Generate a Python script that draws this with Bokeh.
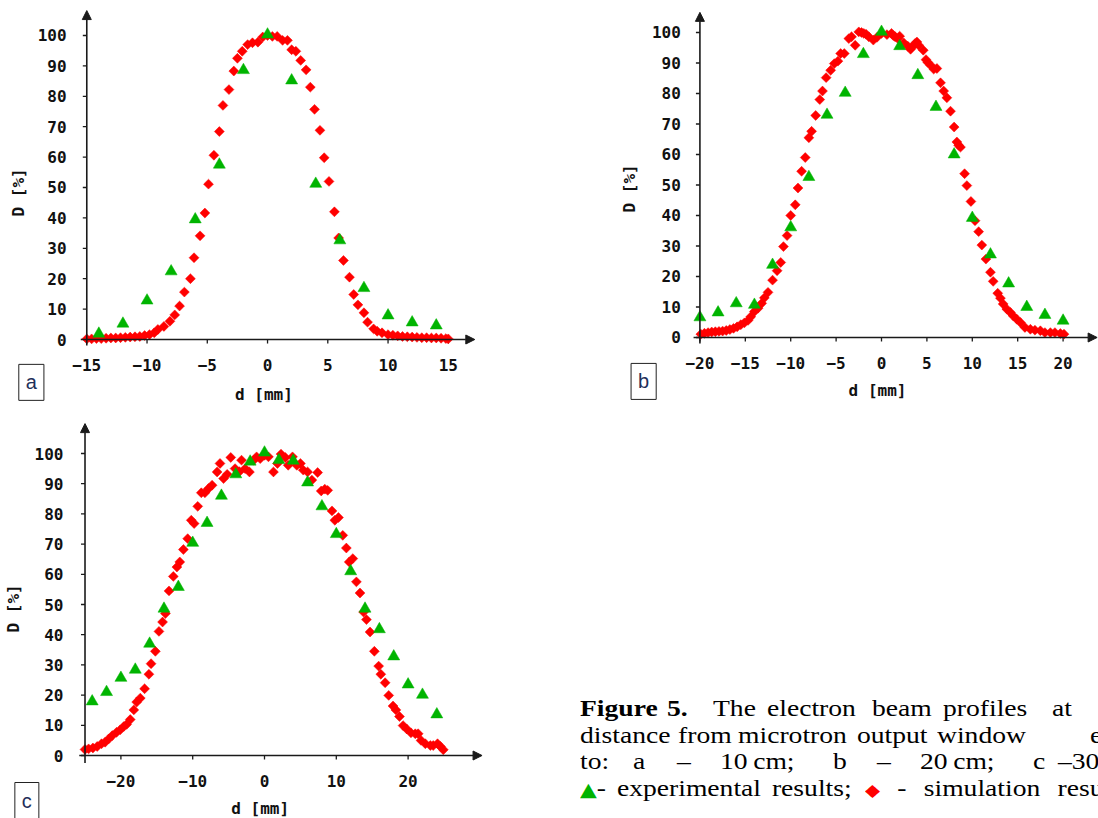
import numpy as np
from bokeh.plotting import figure
from bokeh.layouts import column, row
from bokeh.models import Div, Arrow, NormalHead, Label
from bokeh.core.properties import value
from bokeh.embed import file_html
from bokeh.resources import INLINE

# ---------------- data ----------------
# panel a (10 cm)
a_sim_x = [-15.0, -14.6, -14.2, -13.8, -13.4, -13.0, -12.6, -12.2, -11.8, -11.4, -11.0, -10.6, -10.2, -9.8,
           -9.4, -9.1, -8.6, -8.1, -7.7, -7.3, -6.9, -6.4, -6.1, -5.6, -5.2, -4.9, -4.45, -4.0, -3.7, -3.2,
           -2.8, -2.5, -2.1, -1.65, -1.25, -0.8, -0.4, 0.0, 0.4, 0.8, 1.25, 1.65, 2.0, 2.35, 2.75, 3.2, 3.55,
           3.9, 4.35, 4.7, 5.1, 5.55, 5.9, 6.3, 6.8, 7.15, 7.5, 8.0, 8.3, 8.8, 9.1, 9.5, 10.0, 10.4, 10.8,
           11.2, 11.6, 12.0, 12.4, 12.8, 13.2, 13.6, 14.0, 14.4, 14.8, 15.0]
a_sim_y = [0.2, 0.2, 0.3, 0.3, 0.4, 0.5, 0.5, 0.6, 0.7, 0.8, 0.9, 1.0, 1.3, 1.6,
           2.2, 3.3, 4.3, 6.0, 8.1, 11.0, 15.6, 20.0, 26.9, 34.1, 41.6, 51.1, 60.6, 68.4, 77.0, 82.2,
           88.3, 92.5, 94.8, 97.0, 97.6, 97.8, 99.5, 100.0, 99.7, 99.7, 98.4, 98.4, 95.3, 94.8, 91.8, 88.7, 83.0,
           75.7, 68.8, 59.8, 52.0, 42.0, 33.4, 26.0, 20.5, 14.8, 11.4, 8.8, 5.7, 3.5, 2.7, 2.2, 1.6, 1.4, 1.2,
           1.0, 0.9, 0.8, 0.7, 0.6, 0.6, 0.5, 0.5, 0.4, 0.3, 0.2]
a_exp_x = [-14, -12, -10, -8, -6, -4, -2, 0, 2, 4, 6, 8, 10, 12, 14]
a_exp_y = [1.9, 5.2, 12.8, 22.4, 39.5, 57.5, 88.6, 100.3, 85.2, 51.2, 32.6, 16.9, 7.9, 5.6, 4.6]

# panel b (20 cm)
b_sim_x = [-19.9, -19.5, -19.1, -18.7, -18.3, -17.9, -17.5, -17.1, -16.7, -16.3, -15.9, -15.5, -15.1, -14.7,
           -14.4, -14.0, -13.6, -13.2, -12.9, -12.5, -12.0, -11.5, -11.1, -10.8, -10.4, -10.0, -9.5, -9.2,
           -8.8, -8.4, -8.0, -7.7, -7.25, -6.8, -6.5, -6.1, -5.6, -5.2, -4.8, -4.5, -4.1, -3.6, -3.3, -2.9,
           -2.5, -2.2, -1.95, -1.7, -1.4, -0.9, -0.5, 0.0, 0.6, 1.1, 1.3, 1.5, 1.8, 2.0, 2.45, 2.9, 3.2, 3.4,
           3.7, 3.9, 4.1, 4.6, 4.9, 5.1, 5.4, 5.75, 6.1, 6.5, 6.85, 7.2, 7.6, 8.0, 8.3, 8.5, 8.7, 9.15, 9.4,
           9.85, 10.3, 10.7, 11.05, 11.5, 12.0, 12.3, 12.8, 13.1, 13.4, 13.8, 14.2, 14.5, 14.9, 15.3, 15.8,
           16.4, 16.9, 17.5, 18.0, 18.6, 19.1, 19.7, 20.1]
b_sim_y = [1.1, 1.4, 1.6, 1.8, 1.9, 2.0, 2.1, 2.3, 2.6, 3.0, 3.5, 4.2, 4.8, 5.6,
           6.8, 8.5, 9.6, 11.2, 13.0, 14.8, 18.8, 21.9, 24.6, 29.8, 33.4, 40.0, 43.5, 49.0,
           54.5, 59.0, 65.5, 67.6, 72.8, 78.0, 80.8, 85.2, 87.6, 89.8, 90.6, 93.1, 93.1, 98.0, 98.6, 95.8,
           100.2, 100.0, 99.7, 99.4, 98.6, 97.5, 98.4, 99.7, 99.3, 99.7, 99.0, 98.6, 98.0, 98.8, 96.6, 95.5, 94.5, 95.3,
           96.4, 96.9, 95.8, 94.2, 91.1, 90.2, 89.3, 88.0, 88.2, 83.5, 80.8, 78.6, 74.2, 69.0, 64.1, 63.0, 62.4, 53.7, 49.8,
           44.6, 38.3, 34.7, 30.3, 25.7, 21.4, 18.4, 14.5, 12.9, 11.0, 9.3, 8.2, 7.1, 6.0, 4.9, 3.3,
           2.7, 2.4, 2.2, 1.6, 1.6, 1.6, 1.3, 1.1]
b_exp_x = [-20, -18, -16, -14, -12, -10, -8, -6, -4, -2, 0, 2, 4, 6, 8, 10, 12, 14, 16, 18, 20]
b_exp_y = [6.6, 8.2, 11.2, 10.7, 23.8, 36.1, 52.6, 73.0, 80.2, 92.9, 100.2, 95.5, 86.0, 75.6, 60.0,
           39.2, 27.2, 17.7, 10.0, 7.4, 5.5]

# panel c (30 cm)
c_sim_x = [-25.0, -24.5, -23.9, -23.3, -22.7, -22.2, -21.7, -21.2, -20.6, -20.1, -19.6, -19.2, -18.7, -18.2,
           -17.8, -17.3, -16.7, -16.1, -15.8, -15.2, -14.7, -14.2, -13.8, -13.3, -12.7, -12.2, -11.8, -11.3,
           -10.7, -10.2, -9.8, -9.3, -8.8, -8.3, -7.8, -7.3, -6.6, -6.2, -5.7, -5.2, -4.7, -4.1, -3.5, -3.2,
           -2.7, -2.1, -1.5, -1.1, -0.6, 0.0, 0.55, 1.25, 1.8, 2.3, 2.9, 3.3, 3.9, 4.5, 5.0, 5.4, 6.0, 6.6,
           7.4, 7.9, 8.4, 8.8, 9.4, 9.8, 10.3, 10.9, 11.4, 11.8, 12.3, 12.8, 13.3, 13.8, 14.2, 14.7, 15.3,
           15.9, 16.2, 16.8, 17.3, 17.9, 18.3, 18.8, 19.3, 19.8, 20.4, 21.0, 21.4, 21.8, 22.4, 23.1, 23.5,
           24.1, 24.5, 24.9]
c_sim_y = [2.0, 2.2, 2.5, 3.0, 3.9, 4.4, 5.5, 6.6, 7.7, 8.5, 9.6, 10.3, 11.9, 15.1,
           17.7, 19.0, 22.1, 26.9, 30.4, 34.5, 41.1, 44.2, 47.0, 54.5, 59.3, 62.4, 64.1, 68.2,
           71.8, 77.9, 76.8, 82.5, 87.0, 87.0, 88.4, 89.5, 93.9, 96.7, 91.7, 93.1, 98.7, 95.0, 94.0, 97.8,
           95.0, 93.9, 97.8, 98.9, 98.3, 99.4, 98.9, 93.9, 96.7, 99.8, 98.7, 96.1, 98.9, 96.1, 96.7, 94.5, 93.9, 91.2,
           93.7, 87.6, 88.2, 87.8, 81.0, 77.9, 78.8, 72.9, 68.7, 64.1, 65.2, 57.5, 53.8, 47.5, 45.0, 40.9, 34.5,
           29.6, 26.9, 24.1, 19.9, 16.4, 15.1, 12.9, 9.9, 8.8, 7.5, 7.2, 7.2, 5.0, 3.9, 3.3, 3.3,
           3.9, 3.0, 1.9]
c_exp_x = [-24, -22, -20, -18, -16, -14, -12, -10, -8, -6, -4, -2, 0, 2, 4, 6, 8, 10, 12, 14, 16, 18, 20, 22, 24]
c_exp_y = [17.9, 21.0, 25.7, 28.4, 37.0, 48.6, 55.8, 70.4, 77.0, 86.0, 93.1, 97.3, 100.3, 97.8, 97.6, 90.4,
           82.5, 73.3, 61.0, 48.6, 41.8, 32.8, 23.5, 20.1, 13.6]

y_ticks = [0, 10, 20, 30, 40, 50, 60, 70, 80, 90, 100]
a_ticks = [-15, -10, -5, 0, 5, 10, 15]
b_ticks = [-20, -15, -10, -5, 0, 5, 10, 15, 20]
c_ticks = [-20, -10, 0, 10, 20]

RED = "#ff0000"
GREEN = "#00b400"
AXIS = "#1a1a1a"
TXT = "#111111"
MONO = "DejaVu Sans Mono"
FS = "16px"


def fmt(v):
    return ("\u2212" + str(abs(v))) if v < 0 else str(v)


def panel(letter, width, height, xr, yr, xticks, y_at, x_axis, y_axis,
          tick_len, x_lab_y, y_lab_x, sim_x, sim_y, exp_x, exp_y, ylab, xlab, box):
    p = figure(width=width, height=height, x_range=xr, y_range=yr,
               output_backend="svg", toolbar_location=None,
               min_border=0, min_border_left=0, min_border_right=0,
               min_border_top=0, min_border_bottom=0)
    p.axis.visible = False
    p.grid.visible = False
    p.outline_line_color = None
    p.background_fill_color = "white"
    p.border_fill_color = "white"

    # axis lines with arrow heads
    head = dict(size=9, fill_color=AXIS, line_color=AXIS)
    p.add_layout(Arrow(end=NormalHead(**head), x_start=x_axis[0], y_start=0,
                       x_end=x_axis[1], y_end=0, line_color=AXIS, line_width=1.6))
    p.add_layout(Arrow(end=NormalHead(**head), x_start=y_at, y_start=y_axis[0],
                       x_end=y_at, y_end=y_axis[1], line_color=AXIS, line_width=1.6))

    # tick marks (outward)
    tx, ty = tick_len
    p.segment(x0=xticks, y0=[0] * len(xticks), x1=xticks, y1=[-ty] * len(xticks),
              line_color=AXIS, line_width=1.3)
    p.segment(x0=[y_at] * len(y_ticks), y0=y_ticks, x1=[y_at - tx] * len(y_ticks), y1=y_ticks,
              line_color=AXIS, line_width=1.3)

    # tick labels
    p.text(x=xticks, y=[x_lab_y] * len(xticks), text=[fmt(t) for t in xticks],
           text_align="center", text_baseline="middle", text_font=value(MONO),
           text_font_style="bold", text_font_size=FS, text_color=TXT)
    p.text(x=[y_lab_x] * len(y_ticks), y=y_ticks, text=[str(t) for t in y_ticks],
           text_align="right", text_baseline="middle", text_font=value(MONO),
           text_font_style="bold", text_font_size=FS, text_color=TXT)

    # data
    p.scatter(sim_x, sim_y, marker="square", angle=np.pi / 4, size=7,
              fill_color=RED, line_color=RED, line_width=0.5)
    p.scatter(exp_x, exp_y, marker="triangle", size=12,
              fill_color=GREEN, line_color=GREEN, line_width=0.5)

    # axis titles and panel letter
    p.add_layout(Label(x=ylab[0], y=ylab[1], text="D [%]", angle=np.pi / 2,
                       text_align="center", text_baseline="middle",
                       text_font=MONO, text_font_style="bold",
                       text_font_size=FS, text_color=TXT))
    p.add_layout(Label(x=xlab[0], y=xlab[1], text="d [mm]",
                       text_align="center", text_baseline="middle",
                       text_font=MONO, text_font_style="bold",
                       text_font_size=FS, text_color=TXT))
    p.add_layout(Label(x=box[0], y=box[1], text=letter,
                       text_align="center", text_baseline="middle",
                       text_font="Liberation Sans", text_font_size="20px",
                       text_color="#1f2f5a", border_line_color="#222222",
                       border_line_width=1, background_fill_color="white",
                       padding=7))
    return p


pa = panel("a", 600, 404, (-22.16, 27.63), (-21.38, 111.51), a_ticks, -15,
           (-15.5, 17.2), (-2.0, 108.2), (0.33, 1.32), -8.55, -16.68,
           a_sim_x, a_sim_y, a_exp_x, a_exp_y,
           (-20.66, 48.4), (-0.3, -18.1), (-19.6, -14.1))

pb = panel("b", 498, 404, (-30.95, 23.90), (-21.97, 110.49), b_ticks, -20,
           (-20.7, 23.75), (-2.0, 106.6), (0.44, 1.31), -8.5, -22.1,
           b_sim_x, b_sim_y, b_exp_x, b_exp_y,
           (-27.75, 48.9), (-0.44, -17.4), (-26.2, -14.4))

pc = panel("c", 540, 414, (-36.77, 38.44), (-20.86, 116.23), c_ticks, -25,
           (-25.8, 30.3), (-2.5, 109.9), (0.56, 1.32), -8.6, -28.0,
           c_sim_x, c_sim_y, c_exp_x, c_exp_y,
           (-35.0, 48.7), (-0.6, -17.5), (-33.1, -14.9))

# ---------------- caption ----------------
SC = 1.15
GTRI = "<span style='color:#00b400;font-family:DejaVu Sans;font-size:19px'>\u25B2</span>"
RDIA = "<span style='color:#ff0000;font-family:DejaVu Sans;font-size:17px'>\u25C6</span>"
lines = [
    (292, 3.5, [("<b>Figure</b>", 40), ("<b>5.</b>", 127), ("The", 173), ("electron", 227), ("beam", 332),
                ("profiles", 403), ("at", 512)]),
    (318.5, 3.5, [("distance", 40), ("from", 138), ("microtron", 198), ("output", 317), ("window", 397),
                  ("equal", 550)]),
    (345, 3.5, [("to:", 40), ("a", 93), ("\u2013", 137), ("10\u2009cm;", 180), ("b", 293), ("\u2013", 337),
                ("20\u2009cm;", 380), ("c", 493), ("\u201330", 518), ("cm.", 570)]),
    (371.5, 3.5, [(GTRI + "- experimental results;", 40)]),
    (371.5, 9.0, [(RDIA + " - simulation results.", 325)]),
]
spans = []
for top, ws, words in lines:
    for w, left in words:
        spans.append(
            f"<span style='position:absolute;left:{left}px;top:{top}px;white-space:nowrap;"
            f"word-spacing:{ws}px;transform:scaleX({SC});transform-origin:0 0;'>{w}</span>")
caption_html = (
    "<div style=\"position:relative;width:558px;height:414px;overflow:hidden;"
    "font-family:'Liberation Serif';font-size:24px;line-height:24px;color:#000;\">"
    + "".join(spans) + "</div>")
cap = Div(text=caption_html, width=558, height=414, margin=0)

layout = column(row(pa, pb), row(pc, cap))

with open("out.html", "w") as f:
    f.write(file_html(layout, INLINE))
